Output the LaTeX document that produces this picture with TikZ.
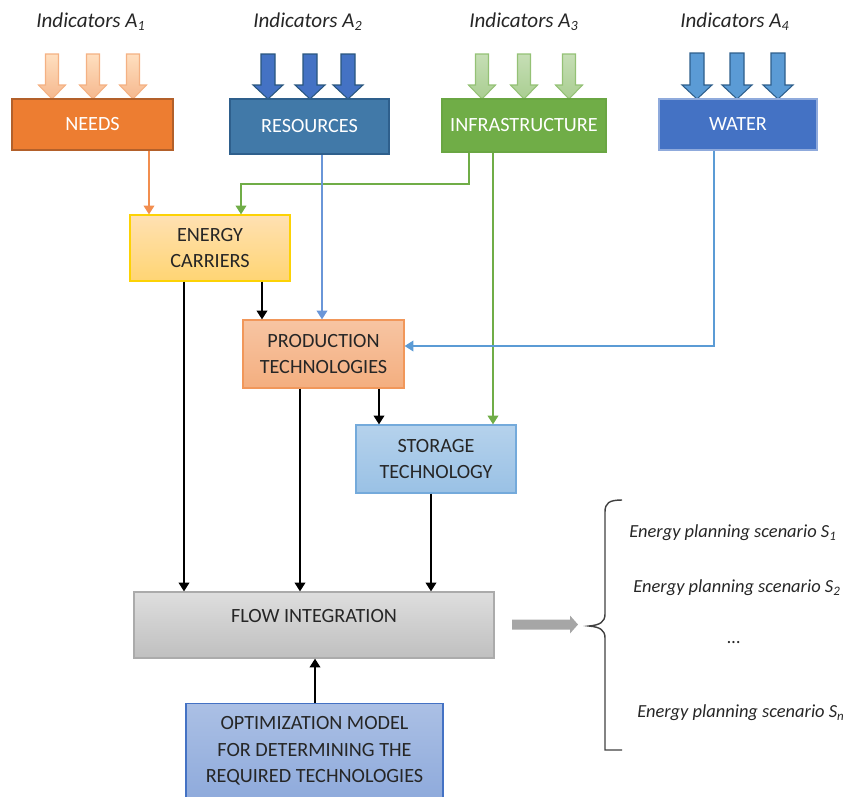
\documentclass[tikz,border=0pt]{standalone}
\usepackage{fontspec}
\setmainfont{Carlito}
\usepackage{xcolor}
\usepackage{tikz}
\usetikzlibrary{arrows.meta}
\definecolor{needsfill}{HTML}{ED7D31}
\definecolor{needsdraw}{HTML}{B3602A}
\definecolor{resfill}{HTML}{4179A8}
\definecolor{resdraw}{HTML}{2E5F8C}
\definecolor{infrafill}{HTML}{70AD47}
\definecolor{infradraw}{HTML}{6AA643}
\definecolor{waterfill}{HTML}{4472C4}
\definecolor{waterdraw}{HTML}{8FAADC}
\definecolor{txt}{HTML}{262626}
\definecolor{orangeline}{HTML}{F28E4F}
\definecolor{greenline}{HTML}{70AD47}
\definecolor{blueline}{HTML}{6A96D8}
\definecolor{waterline}{HTML}{5B9BD5}
\definecolor{grayarrow}{HTML}{A6A6A6}

\begin{document}
\begin{tikzpicture}[
     x = 0.02cm, y = -0.02cm,
     every node/.style = {
        align = center, inner sep = 0pt, text = txt,
        font = \fontsize{11.5}{15}\selectfont},
     topbox/.style = {draw, line width = .9pt, text = white},
     shadebox/.style = {draw, line width = .7pt},
     label/.style = {font = \fontsize{12}{14}\selectfont\itshape},
     scen/.style = {font = \fontsize{10.5}{12}\selectfont\itshape},
     link/.style = {line width = 1.1pt, -{Triangle[length = 5pt, width = 6pt]}},
     blk/.style = {link, black}
     ]

       \useasboundingbox (0,0) rectangle (848,796);

       % indicator labels
       \node[label] (l1) at (91,22) {Indicators A\textsubscript{1}};
       \node[label] (l2) at (308,22) {Indicators A\textsubscript{2}};
       \node[label] (l3) at (524,22) {Indicators A\textsubscript{3}};
       \node[label] (l4) at (735,22) {Indicators A\textsubscript{4}};

       % block arrows
       \foreach \x in {52,93,133}
         \shadedraw[top color = orange!25, bottom color = needsfill!55, draw = needsfill!60, line width = .6pt, shift = {(\x,0)}]
           (-6.5,54) -- (6.5,54) -- (6.5,85) -- (13.5,85) -- (0,99) -- (-13.5,85) -- (-6.5,85) -- cycle;
       \foreach \x in {268,310,348}
         \filldraw[fill = waterfill, draw = resdraw!90!black, line width = .6pt, shift = {(\x,0)}]
           (-7,54) -- (7,54) -- (7,85) -- (15,85) -- (0,99) -- (-15,85) -- (-7,85) -- cycle;
       \foreach \x in {482,524,569}
         \shadedraw[top color = infrafill!40, bottom color = infrafill!60, draw = infrafill!75, line width = .6pt, shift = {(\x,0)}]
           (-6.5,54) -- (6.5,54) -- (6.5,85) -- (13.5,85) -- (0,99) -- (-13.5,85) -- (-6.5,85) -- cycle;
       \foreach \x in {697,737,778}
         \filldraw[fill = waterline, draw = resdraw, line width = .6pt, shift = {(\x,0)}]
           (-7,53) -- (7,53) -- (7,85) -- (15,85) -- (0,99) -- (-15,85) -- (-7,85) -- cycle;

       % boxes
       \node[topbox, fill = needsfill, draw = needsdraw, minimum width = 3.22cm, minimum height = 1.02cm] (needs) at (92.5,124.5) {NEEDS};
       \node[topbox, fill = resfill, draw = resdraw, minimum width = 3.18cm, minimum height = 1.1cm] (res) at (309.5,126.5) {RESOURCES};
       \node[topbox, fill = infrafill, draw = infradraw, minimum width = 3.28cm, minimum height = 1.06cm] (infra) at (524,125.5) {INFRASTRUCTURE};
       \node[topbox, fill = waterfill, draw = waterdraw, minimum width = 3.16cm, minimum height = 1.02cm] (water) at (738,124.5) {WATER};

       \node[shadebox, top color = yellow!20!orange!30, bottom color = yellow!40!orange!55, draw = yellow!70!orange, minimum width = 3.2cm, minimum height = 1.32cm] (carriers) at (210,248) {ENERGY\\CARRIERS};
       \node[shadebox, top color = needsfill!45, bottom color = needsfill!62, draw = needsfill!80, minimum width = 3.22cm, minimum height = 1.36cm] (prod) at (323.5,354) {PRODUCTION\\TECHNOLOGIES};
       \node[shadebox, top color = waterline!45, bottom color = waterline!62, draw = waterline!85, minimum width = 3.2cm, minimum height = 1.36cm] (storage) at (436,459) {STORAGE\\TECHNOLOGY};
       \node[shadebox, top color = black!13, bottom color = black!25, draw = black!33, text depth = 10pt, minimum width = 7.2cm, minimum height = 1.32cm] (flow) at (314,625) {FLOW INTEGRATION};
       \node[shadebox, top color = waterfill!45, bottom color = waterfill!60, draw = waterfill, minimum width = 5.14cm, minimum height = 1.9cm] (opt) at (314.5,751) {OPTIMIZATION MODEL\\FOR DETERMINING THE\\REQUIRED TECHNOLOGIES};

       % connector positions
       \coordinate (k1) at (149,0);
       \coordinate (g1) at (469,184);
       \coordinate (g2) at (241,184);
       \coordinate (g3) at (493,0);
       \coordinate (b1) at (322,0);
       \coordinate (w1) at (714,346);
       \coordinate (k2) at (262,0);
       \coordinate (k3) at (184,0);
       \coordinate (k4) at (300,0);
       \coordinate (k5) at (379,0);
       \coordinate (k6) at (431,0);
       \coordinate (k7) at (315,0);

       \draw[link, orangeline] (needs.south -| k1) -- (carriers.north -| k1);
       \draw[link, greenline] (infra.south -| g1) -- (g1) -- (g2) -- (carriers.north -| g2);
       \draw[link, greenline] (infra.south -| g3) -- (storage.north -| g3);
       \draw[link, blueline] (res.south -| b1) -- (prod.north -| b1);
       \draw[link, waterline] (water.south -| w1) -- (w1) -- (prod.east |- w1);
       \draw[blk] (carriers.south -| k2) -- (prod.north -| k2);
       \draw[blk] (carriers.south -| k3) -- (flow.north -| k3);
       \draw[blk] (prod.south -| k4) -- (flow.north -| k4);
       \draw[blk] (prod.south -| k5) -- (storage.north -| k5);
       \draw[blk] (storage.south -| k6) -- (flow.north -| k6);
       \draw[blk] (opt.north -| k7) -- (flow.south -| k7);

       % output arrow and brace
       \fill[grayarrow] (512,619.5) -- (570,619.5) -- (570,615.5) -- (578,624.5) -- (570,633.5) -- (570,629.5) -- (512,629.5) -- cycle;
       \draw[black!75, line width = .8pt] (622,500) .. controls (609,500) and (605,503) .. (605,512) -- (605,614)
         .. controls (605,622) and (600,625) .. (589,626) .. controls (600,627) and (605,630) .. (605,638)
         -- (605,750) -- (622,750);

       % scenarios
       \node[scen] (s1) at (733,533) {Energy planning scenario S\textsubscript{1}};
       \node[scen] (s2) at (737,588) {Energy planning scenario S\textsubscript{2}};
       \node[scen] (s3) at (734,643) {...};
       \node[scen] (s4) at (741,713) {Energy planning scenario S\textsubscript{n}};

      \end{tikzpicture}
\end{document}
